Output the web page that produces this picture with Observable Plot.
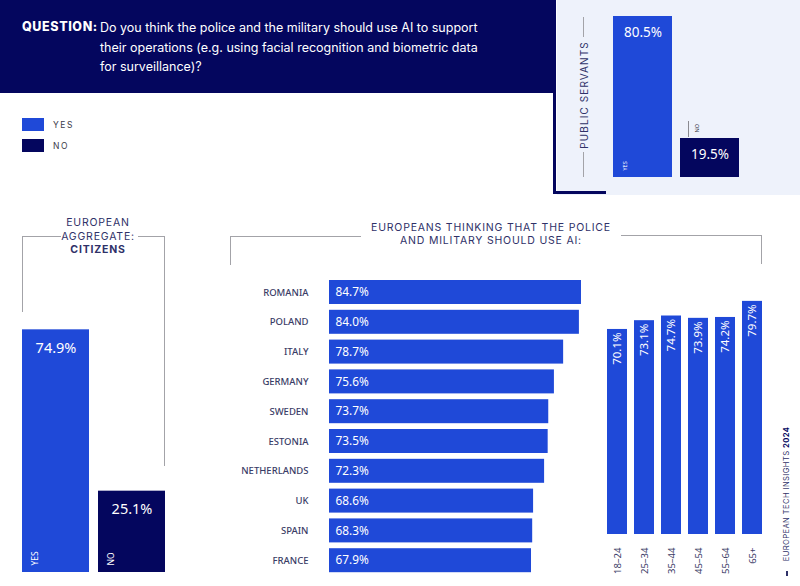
<!DOCTYPE html>
<html>
<head>
<meta charset="utf-8">
<script src="https://cdn.jsdelivr.net/npm/d3@7"></script>
<script src="https://cdn.jsdelivr.net/npm/@observablehq/plot@0.6"></script>
<style>
  html, body { margin: 0; padding: 0; background: #ffffff; }
  body { width: 800px; height: 586px; position: relative; overflow: hidden; font-family: Inter, "Open Sans", sans-serif; }
  .abs { position: absolute; }
  .header { left: 0; top: 0; width: 556px; height: 93px; background: #04065e; color: #ffffff; }
  .q-label { position: absolute; left: 22px; top: 19px; font-weight: 800; font-size: 12.5px; letter-spacing: 0.6px; }
  .q-text { position: absolute; left: 100px; top: 18px; font-size: 12.5px; line-height: 19.5px; }
  .panel { left: 557px; top: 0; width: 243px; height: 195px; background: #eef2fb; }
  .navy { background: #04065e; }
  .rule { background: #a3a3a8; }
  .rot { transform: translate(-50%, -50%) rotate(-90deg); white-space: nowrap; }
  .caps { color: #2f3168; text-transform: uppercase; }
  .legend-lb { font-size: 8.5px; letter-spacing: 1.6px; color: #3b3b4a; }
  .title { text-align: center; font-size: 10.5px; line-height: 12.5px; color: #2f3168; letter-spacing: 0.8px; }
  .chart { position: absolute; }
  .chart svg { display: block; overflow: visible; }
  g[aria-label="country names"] text { letter-spacing: 2.4px; }
  g[aria-label="age groups"] text { letter-spacing: 1px; }
  g[aria-label="answer tags"] text { letter-spacing: 1.2px; }
</style>
</head>
<body>
<script>
// Survey values (share of respondents, %)
const answers = ["YES", "NO"];
const publicServants = [80.5, 19.5];
const citizens = [74.9, 25.1];
const countries = ["ROMANIA", "POLAND", "ITALY", "GERMANY", "SWEDEN", "ESTONIA", "NETHERLANDS", "UK", "SPAIN", "FRANCE"];
const countryYes = [84.7, 84.0, 78.7, 75.6, 73.7, 73.5, 72.3, 68.6, 68.3, 67.9];
const ageGroups = ["18–24", "25–34", "35–44", "45–54", "55–64", "65+"];
const ageYes = [70.1, 73.1, 74.7, 73.9, 74.2, 79.7];

const BLUE = "#1f49d8";
const NAVY = "#04065e";
const pct = v => d3.format(".1f")(v) + "%";

const answerRows = vals => answers.map((a, i) => ({answer: a, value: vals[i]}));
const countryRows = countries.map((c, i) => ({country: c, value: countryYes[i]}));
const ageRows = ageGroups.map((g, i) => ({age: g, value: ageYes[i]}));

function el(cls, css, html) {
  const d = document.createElement("div");
  d.className = "abs " + (cls || "");
  Object.assign(d.style, css || {});
  if (html != null) d.innerHTML = html;
  document.body.appendChild(d);
  return d;
}
function place(svg, left, top) {
  const d = document.createElement("div");
  d.className = "chart";
  d.style.left = left + "px";
  d.style.top = top + "px";
  d.appendChild(svg);
  document.body.appendChild(d);
}
function hline(x1, x2, y) { el("rule", {left: x1 + "px", top: y + "px", width: (x2 - x1) + "px", height: "1px"}); }
function vline(x, y1, y2) { el("rule", {left: x + "px", top: y1 + "px", width: "1px", height: (y2 - y1) + "px"}); }

// Question banner
el("header", {}, `<div class="q-label">QUESTION:</div>
  <div class="q-text">Do you think the police and the military should use AI to support<br>their operations (e.g. using facial recognition and biometric data<br>for surveillance)?</div>`);

// Public servants panel
el("panel");
el("navy", {left: "553px", top: "92px", width: "3px", height: "102px"});
el("navy", {left: "553px", top: "191px", width: "53px", height: "3px"});
el("rot caps", {left: "584px", top: "95px", fontSize: "10px", letterSpacing: "1.1px"}, "PUBLIC SERVANTS");
vline(583, 17, 37);
vline(583, 152, 177);

const psRows = answerRows(publicServants);
place(Plot.plot({
  width: 150, height: 195, margin: 0,
  x: {domain: answers, range: [13, 139], paddingInner: 8 / 67, paddingOuter: 0, round: false, axis: null},
  y: {domain: [0, 100], range: [177, -23], axis: null},
  color: {domain: answers, range: [BLUE, NAVY]},
  marks: [
    Plot.barY(psRows, {x: "answer", y: "value", fill: "answer"}),
    Plot.text(psRows, {x: "answer", y: "value", text: d => pct(d.value), dy: 16, fill: "white", fontSize: 13.5}),
    Plot.text(psRows.filter(d => d.answer === "YES"), {x: "answer", y: 0, text: "answer", rotate: -90, textAnchor: "start", dx: -17.5, dy: -7, fill: "white", fontSize: 5.5, ariaLabel: "answer tags"}),
    Plot.text(psRows.filter(d => d.answer === "NO"), {x: "answer", y: "value", text: "answer", rotate: -90, textAnchor: "start", dx: -12.5, dy: -6, fill: "#3b3b4a", fontSize: 5.5, ariaLabel: "answer tags"}),
    Plot.ruleX(psRows.filter(d => d.answer === "NO"), {x: "answer", y1: d => d.value + 0.5, y2: d => d.value + 8.5, dx: -21.5, stroke: "#8a8a90"})
  ]
}), 600, 0);

// Legend
el("navy", {left: "22px", top: "118px", width: "22px", height: "13px", background: BLUE});
el("legend-lb", {left: "53px", top: "120px"}, "YES");
el("navy", {left: "22px", top: "139px", width: "22px", height: "13px"});
el("legend-lb", {left: "53px", top: "141px"}, "NO");

// European aggregate: citizens
el("title", {left: "38px", top: "216px", width: "120px", lineHeight: "13.5px"}, "EUROPEAN<br>AGGREGATE:<br><b>CITIZENS</b>");
hline(22, 61, 236);
hline(138, 165, 236);
vline(22, 236, 312);
vline(164, 236, 466);

const citRows = answerRows(citizens);
place(Plot.plot({
  width: 200, height: 386, margin: 0,
  x: {domain: answers, range: [22, 165], paddingInner: 9 / 76, paddingOuter: 0, round: false, axis: null},
  y: {domain: [0, 100], range: [372, 48], axis: null},
  color: {domain: answers, range: [BLUE, NAVY]},
  marks: [
    Plot.barY(citRows, {x: "answer", y: "value", fill: "answer"}),
    Plot.text(citRows, {x: "answer", y: "value", text: d => pct(d.value), dy: 18.5, fill: "white", fontSize: 14.5}),
    Plot.text(citRows, {x: "answer", y: 0, text: "answer", rotate: -90, textAnchor: "start", dx: -21, dy: -7, fill: "white", fontSize: 8.5, ariaLabel: "answer tags"})
  ]
}), 0, 200);

// Countries
el("title", {left: "341px", top: "222px", width: "300px"}, "EUROPEANS THINKING THAT THE POLICE<br>AND MILITARY SHOULD USE AI:");
hline(230, 361, 236);
vline(230, 236, 265);
hline(621, 762, 235);
vline(761, 235, 264);

place(Plot.plot({
  width: 400, height: 310, margin: 0,
  x: {domain: [0, 100], range: [109, 406.5], axis: null},
  y: {domain: countries, range: [10, 302.2], paddingInner: 0.195, paddingOuter: 0, round: false, axis: null},
  marks: [
    Plot.barX(countryRows, {y: "country", x: "value", fill: BLUE}),
    Plot.text(countryRows, {y: "country", x: 0, text: "country", textAnchor: "end", dx: -21, fill: "#3a3c66", fontSize: 9.5, fontWeight: 500, ariaLabel: "country names"}),
    Plot.text(countryRows, {y: "country", x: 0, text: d => pct(d.value), textAnchor: "start", dx: 6, fill: "white", fontSize: 11.8})
  ]
}), 220, 270);

// Age groups
place(Plot.plot({
  width: 200, height: 306, margin: 0,
  x: {domain: ageGroups, range: [17, 172], paddingInner: 7 / 27, paddingOuter: 0, round: false, axis: null},
  y: {domain: [0, 100], range: [254, -38.5], axis: null},
  marks: [
    Plot.barY(ageRows, {x: "age", y: "value", fill: BLUE}),
    Plot.text(ageRows, {x: "age", y: "value", text: d => pct(d.value), rotate: -90, textAnchor: "end", dy: 3, fill: "white", fontSize: 11.5}),
    Plot.text(ageRows, {x: "age", y: 0, text: "age", rotate: -90, textAnchor: "end", dy: 13, fill: "#3a3c66", fontSize: 9.5, ariaLabel: "age groups"})
  ]
}), 590, 280);

// Source
el("rot caps", {left: "786px", top: "494px", fontSize: "7.6px", letterSpacing: "0.4px", color: "#2f3168"}, "European Tech Insights <b style='color:#04065e'>2024</b>");
el("navy", {left: "786px", top: "571px", width: "2px", height: "5px", background: "#2f3168"});
</script>
</body>
</html>
